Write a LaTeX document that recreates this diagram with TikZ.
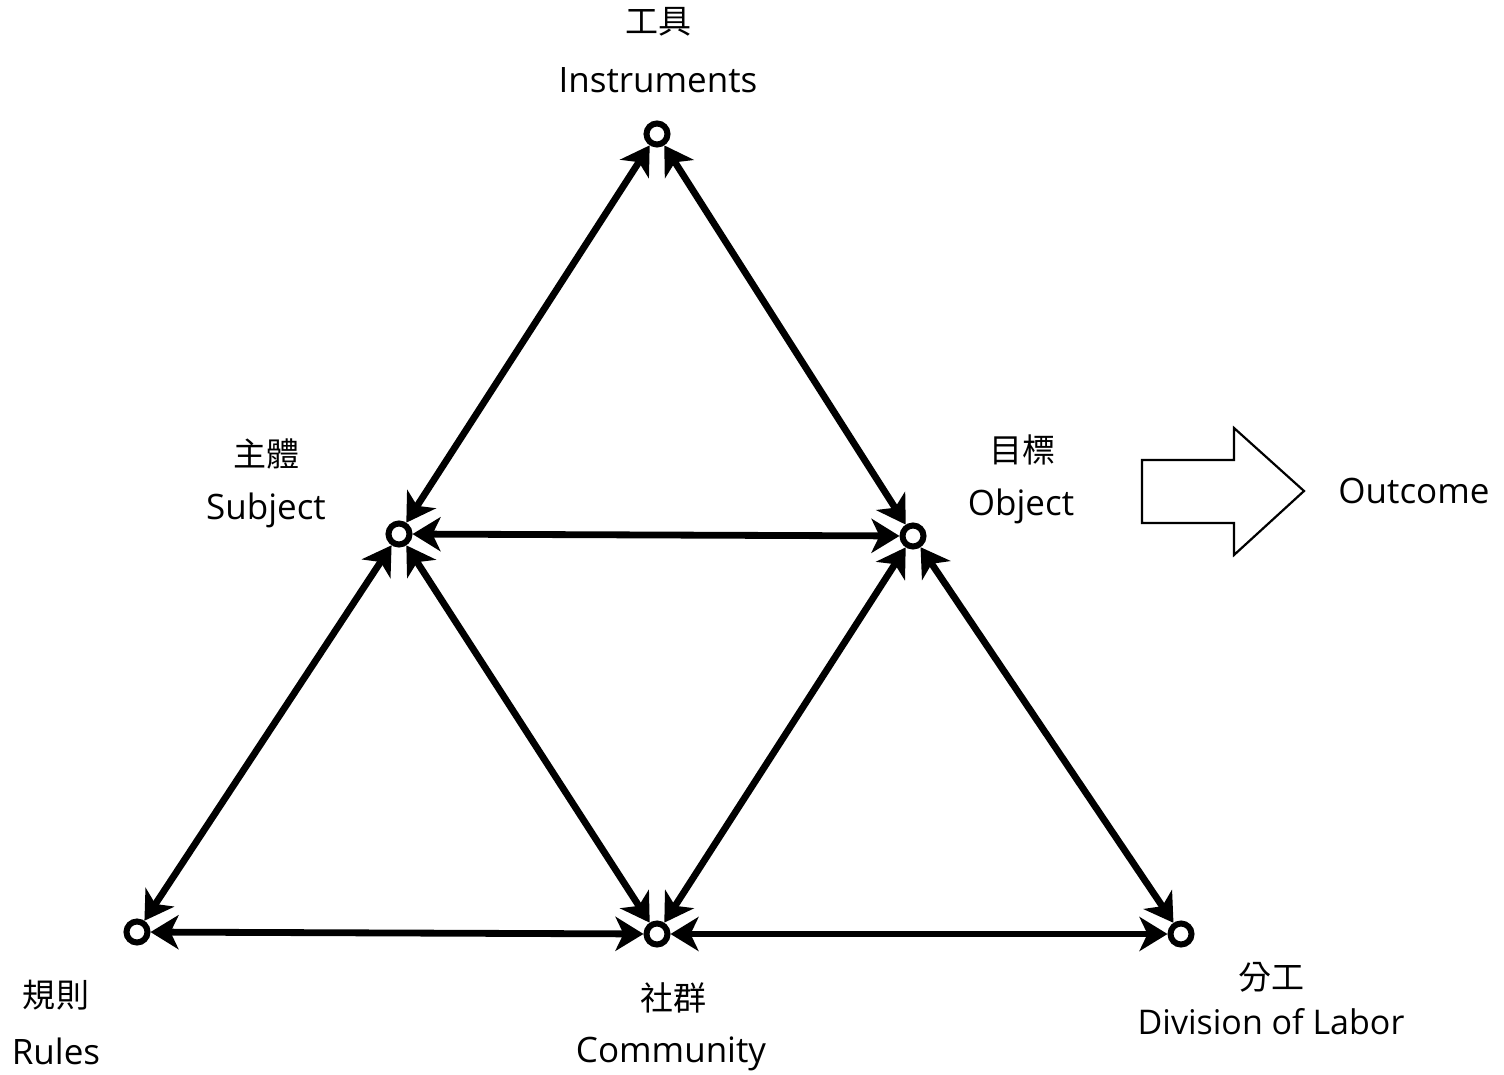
\documentclass[tikz,border=0pt]{standalone}
\usepackage{fontspec}
\setmainfont{Open Sans}
\newfontfamily\cjk{Noto Sans CJK TC}
\usetikzlibrary{arrows.meta}
\tikzset{
  vtx/.style={circle, draw, line width=3pt, fill=white, inner sep=0pt, minimum size=10.5pt},
  link/.style={line width=3.4pt, {Stealth[length=14pt,width=17pt,inset=4pt]}-{Stealth[length=14pt,width=17pt,inset=4pt]}},
  en/.style={font=\fontsize{17.5}{20}\selectfont, inner sep=0pt},
  zh/.style={font=\cjk\fontsize{16.5}{20}\selectfont, inner sep=0pt},
  bigarrow/.style={draw, line width=1.1pt, fill=white, line join=miter}
}
\begin{document}
\begin{tikzpicture}[x=0.5pt, y=-0.5pt]
\fill[white] (0,0) rectangle (1504,1075);
\useasboundingbox (0,0) rectangle (1504,1075);

\node[vtx] (ins) at (657,134) {};
\node[vtx] (sub) at (399,534) {};
\node[vtx] (obj) at (913,536) {};
\node[vtx] (rul) at (137,932) {};
\node[vtx] (com) at (657,934) {};
\node[vtx] (div) at (1181,934) {};

\draw[link] (ins) -- (sub);
\draw[link] (ins) -- (obj);
\draw[link] (sub) -- (obj);
\draw[link] (sub) -- (rul);
\draw[link] (sub) -- (com);
\draw[link] (obj) -- (com);
\draw[link] (obj) -- (div);
\draw[link] (rul) -- (com);
\draw[link] (com) -- (div);

\node[zh] (insz) at (658,22) {工具};
\node[en] (inse) at (658,80) {Instruments};
\node[zh] (subz) at (266,454) {主體};
\node[en] (sube) at (266,510) {Subject};
\node[zh] (objz) at (1022,450) {目標};
\node[en] (obje) at (1021,506) {Object};
\node[zh] (rulz) at (56,995) {規則};
\node[en] (rule) at (56,1051) {Rules};
\node[zh] (comz) at (673,998) {社群};
\node[en] (come) at (671,1054) {Community};
\node[zh] (divz) at (1271,977) {分工};
\node[en, font=\fontsize{17}{20}\selectfont] (dive) at (1271,1022) {Division of Labor};
\node[en] (out) at (1414,491) {Outcome};

\draw[bigarrow] (1142,460) -- (1234,460) -- (1234,428) -- (1304,491) -- (1234,555) -- (1234,523) -- (1142,523) -- cycle;
\end{tikzpicture}
\end{document}
